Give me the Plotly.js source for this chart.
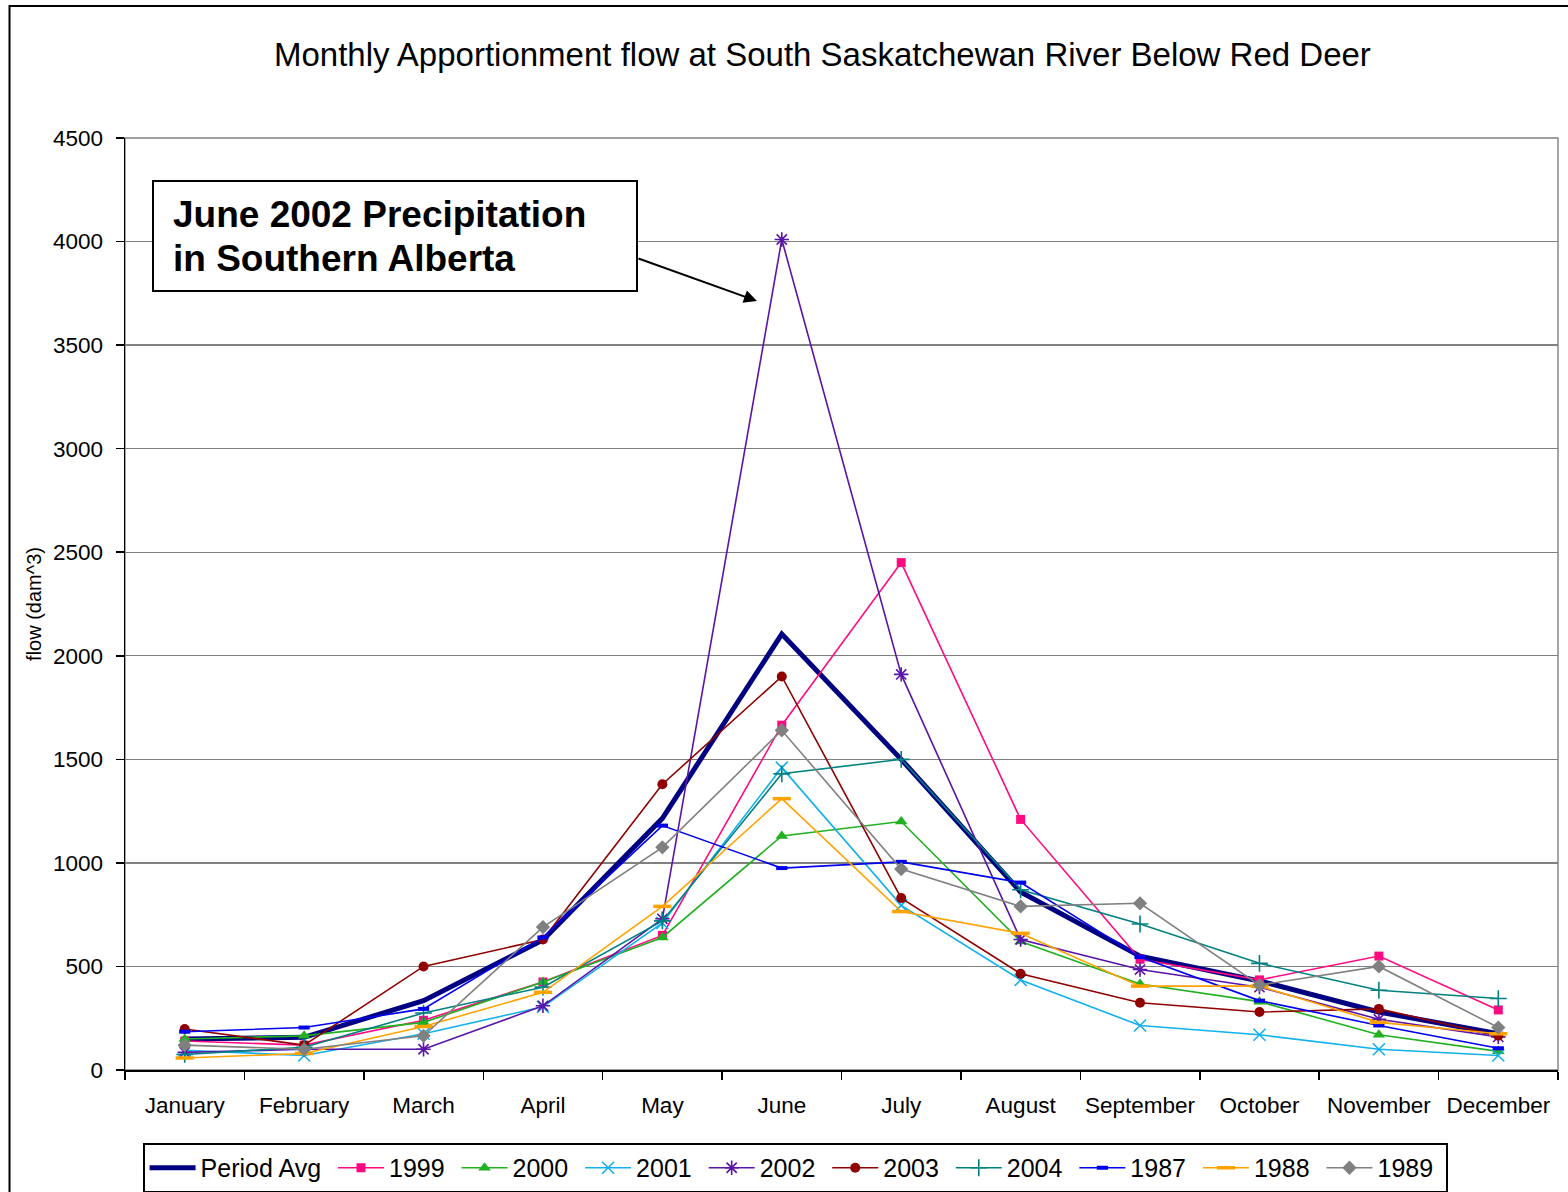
<!DOCTYPE html>
<html>
<head>
<meta charset="utf-8">
<script src="https://cdn.plot.ly/plotly-3.0.1.min.js"></script>
<style>
  html, body { margin: 0; padding: 0; background: #ffffff; }
  #chart { width: 1568px; height: 1192px; }
</style>
</head>
<body>
<div id="chart"></div>
<script>
// Monthly apportionment flow (dam^3), South Saskatchewan River below Red Deer
const months = ['January', 'February', 'March', 'April', 'May', 'June',
                'July', 'August', 'September', 'October', 'November', 'December'];

const periodAvg = [150, 158, 335, 628, 1215, 2105, 1500, 860, 550, 430, 280, 175];
const flow1999  = [140, 120, 240, 425, 650, 1665, 2450, 1210, 535, 435, 550, 290];
const flow2000  = [150, 165, 230, 425, 640, 1130, 1200, 620, 415, 330, 170, 90];
const flow2001  = [95, 70, 175, 305, 710, 1460, 795, 435, 215, 170, 100, 70];
const flow2002  = [85, 100, 100, 310, 730, 4010, 1910, 630, 485, 400, 245, 160];
const flow2003  = [198, 120, 500, 630, 1380, 1900, 830, 465, 325, 280, 295, 165];
const flow2004  = [75, 110, 275, 400, 720, 1430, 1500, 870, 705, 515, 385, 345];
const flow1987  = [185, 205, 295, 640, 1180, 975, 1005, 905, 545, 335, 215, 105];
const flow1988  = [58, 80, 210, 375, 790, 1310, 765, 660, 405, 405, 230, 175];
const flow1989  = [120, 100, 165, 690, 1075, 1640, 970, 790, 805, 410, 500, 205];

const yTicks = [0, 500, 1000, 1500, 2000, 2500, 3000, 3500, 4000, 4500];

const FONT = 'Liberation Sans, Arial, Helvetica, sans-serif';
const PAD = '\u00a0'; // a little breathing room after each legend label

function series(name, values, color, symbol, size, opts) {
  opts = opts || {};
  return {
    type: 'scatter',
    mode: 'lines+markers',
    name: name + PAD,
    x: months,
    y: values,
    line: { color: color, width: 1.6 },
    marker: {
      symbol: symbol,
      size: size,
      color: color,
      line: { color: color, width: opts.mlw || 0 }
    }
  };
}

const traces = [
  {
    type: 'scatter', mode: 'lines', name: 'Period Avg' + PAD,
    x: months, y: periodAvg,
    line: { color: '#000080', width: 5 }
  },
  series('1999', flow1999, '#FF0A80', 'square', 9),
  series('2000', flow2000, '#20B020', 'triangle-up', 11),
  series('2001', flow2001, '#12B0EC', 'x-thin', 12, { mlw: 1.6 }),
  series('2002', flow2002, '#5A14A8', 'asterisk', 12, { mlw: 1.6 }),
  series('2003', flow2003, '#900000', 'circle', 10),
  series('2004', flow2004, '#008080', 'cross-thin', 12, { mlw: 1.6 }),
  series('1987', flow1987, '#0000EE', 'line-ew', 8, { mlw: 4 }),
  series('1988', flow1988, '#FFA200', 'line-ew', 13, { mlw: 3.5 }),
  series('1989', flow1989, '#808080', 'diamond', 11)
];

const layout = {
  width: 1568,
  height: 1192,
  paper_bgcolor: '#ffffff',
  plot_bgcolor: '#ffffff',
  margin: { l: 125, r: 10, t: 138, b: 122, autoexpand: false },
  font: { family: FONT, color: '#000000', size: 22 },
  title: {
    text: 'Monthly Apportionment flow at South Saskatchewan River Below Red Deer',
    font: { family: FONT, size: 33, color: '#000000' },
    xref: 'container', yref: 'container',
    x: 0.5245, xanchor: 'center',
    y: 0.9547, yanchor: 'middle'
  },
  xaxis: {
    type: 'category',
    categoryorder: 'array',
    categoryarray: months,
    range: [-0.5, 11.5],
    automargin: false,
    tickangle: 0,
    showgrid: false,
    zeroline: false,
    showline: true,
    linecolor: '#000000',
    linewidth: 1.5,
    ticks: 'outside',
    tickson: 'boundaries',
    ticklen: 8,
    tickwidth: 1.5,
    tickcolor: '#000000',
    tickfont: { family: FONT, size: 22.5, color: '#000000' },
    ticklabelstandoff: 14,
    fixedrange: true
  },
  yaxis: {
    range: [0, 4500],
    automargin: false,
    tickvals: yTicks,
    ticktext: yTicks.map(String),
    showgrid: true,
    gridcolor: '#808080',
    gridwidth: 1.4,
    zeroline: false,
    showline: true,
    linecolor: '#000000',
    linewidth: 1.5,
    ticks: 'outside',
    ticklen: 8,
    tickwidth: 1.5,
    tickcolor: '#000000',
    tickfont: { family: FONT, size: 22.5, color: '#000000' },
    ticklabelstandoff: 8,
    title: {
      text: 'flow (dam^3)',
      font: { family: FONT, size: 20, color: '#000000' },
      standoff: 6
    },
    fixedrange: true
  },
  showlegend: true,
  legend: {
    orientation: 'h',
    xref: 'paper', yref: 'paper',
    x: 0.4676, xanchor: 'center',
    y: -0.0783, yanchor: 'top',
    bordercolor: '#000000',
    borderwidth: 2,
    bgcolor: '#ffffff',
    itemwidth: 46,
    font: { family: FONT, size: 25, color: '#000000' },
    traceorder: 'normal'
  },
  shapes: [
    // plot area frame
    { type: 'rect', xref: 'paper', yref: 'paper', x0: 0, x1: 1, y0: 0, y1: 1,
      line: { color: '#808080', width: 1.4 }, layer: 'below' },
    // outer chart frame
    { type: 'rect', xref: 'paper', yref: 'paper',
      x0: -0.0806, x1: 1.04, y0: -0.17, y1: 1.1416,
      line: { color: '#000000', width: 2 }, layer: 'above' },
    // callout box
    { type: 'rect', xref: 'paper', yref: 'paper',
      x0: 0.01954, x1: 0.3573, y0: 0.8358, y1: 0.9539,
      line: { color: '#000000', width: 2 }, fillcolor: '#ffffff', layer: 'above' }
  ],
  annotations: [
    { xref: 'paper', yref: 'paper', x: 0.0321, y: 0.9175,
      xanchor: 'left', yanchor: 'middle', showarrow: false,
      text: '<b>June 2002 Precipitation</b>',
      font: { family: FONT, size: 37, color: '#000000' } },
    { xref: 'paper', yref: 'paper', x: 0.0321, y: 0.8702,
      xanchor: 'left', yanchor: 'middle', showarrow: false,
      text: '<b>in Southern Alberta</b>',
      font: { family: FONT, size: 37, color: '#000000' } },
    { xref: 'paper', yref: 'paper', x: 0.441, y: 0.8251,
      text: '', showarrow: true,
      axref: 'pixel', ayref: 'pixel', ax: -120, ay: -43,
      arrowhead: 2, arrowsize: 1.3, arrowwidth: 2, arrowcolor: '#000000' }
  ]
};

Plotly.newPlot('chart', traces, layout, { displayModeBar: false, staticPlot: true });
</script>
</body>
</html>
